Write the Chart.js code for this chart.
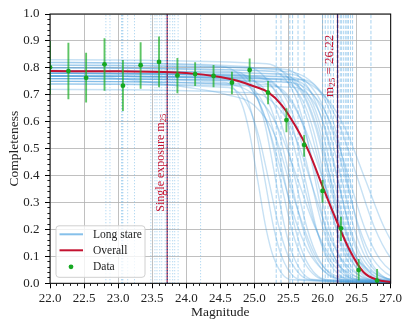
<!DOCTYPE html>
<html><head><meta charset="utf-8">
<script src="https://cdn.jsdelivr.net/npm/chart.js@4.4.1/dist/chart.umd.min.js"></script>
<style>html,body{margin:0;padding:0;background:#fff;overflow:hidden}</style>
</head><body>
<canvas id="c" width="411" height="329" style="display:block;width:411px;height:329px"></canvas>
<script>
// ---------- data ----------
const dataMag     = [22.00,22.27,22.53,22.80,23.07,23.33,23.60,23.87,24.13,24.40,24.67,24.93,25.20,25.47,25.73,26.00,26.27,26.53,26.80];
const dataComp    = [0.802,0.788,0.763,0.813,0.734,0.810,0.822,0.772,0.777,0.770,0.745,0.792,0.708,0.606,0.514,0.343,0.204,0.049,0.010];
const dataErrLow  = [0.700,0.683,0.671,0.715,0.640,0.722,0.728,0.706,0.733,0.728,0.702,0.749,0.665,0.561,0.470,0.299,0.157,0.010,0.000];
const dataErrHigh = [0.900,0.893,0.856,0.910,0.829,0.895,0.916,0.837,0.821,0.811,0.786,0.835,0.751,0.650,0.551,0.384,0.247,0.090,0.053];

const overallMag  = [22,23,24,24.5,24.75,25,25.2,25.4,25.6,25.8,26.0,26.2,26.4,26.6,26.8,27];
const overallComp = [0.788,0.787,0.781,0.766,0.752,0.731,0.710,0.662,0.585,0.488,0.360,0.235,0.122,0.042,0.013,0.005];

const longStareCurves = [
 [[22,.76],[24.57,.746],[24.81,.67],[24.93,.556],[25.05,.38],[25.17,.204],[25.29,.09],[25.53,.014],[27.8,0]],
 [[22,.78],[24.63,.766],[24.89,.687],[25.02,.57],[25.15,.39],[25.28,.21],[25.41,.093],[25.67,.014],[27.8,0]],
 [[22,.74],[24.62,.727],[24.92,.652],[25.07,.541],[25.22,.37],[25.37,.199],[25.52,.088],[25.82,.013],[27.8,0]],
 [[22,.80],[24.74,.786],[25.02,.705],[25.16,.585],[25.30,.40],[25.44,.215],[25.58,.095],[25.86,.014],[27.8,0]],
 [[22,.77],[24.74,.756],[25.06,.678],[25.22,.563],[25.38,.385],[25.54,.207],[25.70,.092],[26.02,.014],[27.8,0]],
 [[22,.75],[24.85,.737],[25.15,.661],[25.30,.548],[25.45,.375],[25.60,.202],[25.75,.089],[26.05,.014],[27.8,0]],
 [[22,.79],[24.80,.776],[25.16,.696],[25.34,.577],[25.52,.395],[25.70,.213],[25.88,.094],[26.24,.014],[27.8,0]],
 [[22,.77],[24.92,.756],[25.26,.678],[25.43,.563],[25.60,.385],[25.77,.207],[25.94,.092],[26.28,.014],[27.8,0]],
 [[22,.82],[24.88,.805],[25.28,.722],[25.48,.599],[25.68,.41],[25.88,.221],[26.08,.098],[26.48,.015],[27.8,0]],
 [[22,.76],[25.11,.746],[25.43,.67],[25.59,.556],[25.75,.38],[25.91,.204],[26.07,.09],[26.39,.014],[27.8,0]],
 [[22,.78],[25.10,.766],[25.46,.687],[25.64,.57],[25.82,.39],[26.00,.21],[26.18,.093],[26.54,.014],[27.8,0]],
 [[22,.80],[25.28,.786],[25.58,.705],[25.73,.585],[25.88,.40],[26.03,.215],[26.18,.095],[26.48,.014],[27.8,0]],
 [[22,.75],[25.25,.737],[25.59,.661],[25.76,.548],[25.93,.375],[26.10,.202],[26.27,.089],[26.61,.014],[27.8,0]],
 [[22,.83],[25.18,.815],[25.58,.731],[25.78,.607],[25.98,.415],[26.18,.223],[26.38,.099],[26.78,.015],[27.8,0]],
 [[22,.77],[25.39,.756],[25.71,.678],[25.87,.563],[26.03,.385],[26.19,.207],[26.35,.092],[26.67,.014],[27.8,0]],
 [[22,.79],[25.36,.776],[25.72,.696],[25.90,.577],[26.08,.395],[26.26,.213],[26.44,.094],[26.80,.014],[27.8,0]],
 [[22,.76],[25.52,.746],[25.82,.67],[25.97,.556],[26.12,.38],[26.27,.204],[26.42,.09],[26.72,.014],[27.8,0]],
 [[22,.78],[25.48,.766],[25.82,.687],[25.99,.57],[26.16,.39],[26.33,.21],[26.50,.093],[26.84,.014],[27.8,0]],
 [[22,.81],[25.44,.795],[25.82,.714],[26.01,.592],[26.20,.405],[26.39,.218],[26.58,.096],[26.96,.015],[27.8,0]],
 [[22,.74],[25.60,.727],[25.92,.652],[26.08,.541],[26.24,.37],[26.40,.199],[26.56,.088],[26.88,.013],[27.8,0]],
 [[22,.77],[25.56,.756],[25.92,.678],[26.10,.563],[26.28,.385],[26.46,.207],[26.64,.092],[27.00,.014],[27.8,0]],
 [[22,.79],[25.53,.776],[25.93,.696],[26.13,.577],[26.33,.395],[26.53,.213],[26.73,.094],[27.13,.014],[27.8,0]],
 [[22,.76],[25.52,.746],[25.96,.67],[26.18,.556],[26.40,.38],[26.62,.204],[26.84,.09],[27.28,.014],[27.8,0]],
 [[22,.80],[25.50,.786],[26.00,.705],[26.25,.585],[26.50,.40],[26.75,.215],[27.00,.095],[27.50,.014],[27.8,0]],
 [[22,.78],[25.50,.766],[26.06,.687],[26.34,.57],[26.62,.39],[26.90,.21],[27.18,.093],[27.74,.014],[27.8,0]],
 [[22,.72],[24.97,.707],[25.41,.634],[25.63,.526],[25.85,.36],[26.07,.194],[26.29,.086],[26.73,.013],[27.8,0]],
 [[22,.82],[24.52,.805],[24.96,.722],[25.18,.599],[25.40,.41],[25.62,.221],[25.84,.098],[26.28,.015],[27.8,0]],
 [[22,.78],[25.00,.766],[25.50,.687],[25.75,.57],[26.00,.39],[26.25,.21],[26.50,.093],[27.00,.014],[27.8,0]],
 [[22,.75],[24.65,.737],[25.15,.661],[25.40,.548],[25.65,.375],[25.90,.202],[26.15,.089],[26.65,.014],[27.8,0]],
 [[22,.77],[22.8,.765],[23.5,.745],[24.0,.728],[24.6,.70],[25.0,.66],[25.3,.55],[25.6,.30],[25.9,.10],[26.3,.02],[27.8,0]],
 [[22,.81],[25.30,.795],[25.70,.714],[25.90,.592],[26.10,.405],[26.30,.218],[26.50,.096],[26.90,.015],[27.8,0]],
 [[22,.77],[25.72,.756],[26.04,.678],[26.20,.563],[26.36,.385],[26.52,.207],[26.68,.092],[27.00,.014],[27.8,0]]
];

const singleExpM25 = [22.82,22.88,23.05,23.06,23.07,23.14,23.24,23.48,23.54,23.57,23.61,23.64,23.69,23.76,23.80,23.83,23.88,24.21];
const longStareM25 = [25.32,25.39,25.52,25.56,25.64,25.73,26.00,26.04,26.08,26.12,26.16,26.26,26.28,26.31,26.34,26.36,26.38,26.41,26.44,26.71];
const singleExpMedianM25 = 23.72;
const overallM25 = 26.22;

const xRange = [22, 27], yRange = [0, 1];
const xMajorStep = 0.5, xMinorStep = 0.1, yMajorStep = 0.1, yMinorStep = 0.02;
const legendLabels = ['Long stare', 'Overall', 'Data'];
const xTitle = 'Magnitude', yTitle = 'Completeness';

// ---------- styles ----------
const FONT = "'Liberation Serif', 'DejaVu Serif', serif";
const RED = '#c41230';
const NAVY = '#1f2a78';
const GREEN = 'rgb(22,168,34)';
const GREEN_BAR = 'rgba(30,175,40,0.72)';
const BLUE_CURVE = 'rgba(70,155,220,0.30)';
const BLUE_VLINE = 'rgba(110,180,230,0.55)';
const BLUE_LEGEND = '#86c0ea';

const datasets = [];
const vline = (m, color, dash, width, order, offset) => ({
  data: [{x: m, y: yRange[0]}, {x: m, y: yRange[1]}],
  borderColor: color, borderWidth: width, borderDash: dash, borderDashOffset: offset || 0,
  pointRadius: 0, order: order
});

datasets.push({
  data: dataMag.map((m, i) => ({x: m, y: dataComp[i]})),
  showLine: false, pointRadius: 2.4, pointBackgroundColor: GREEN, pointBorderWidth: 0, order: 0
});
dataMag.forEach((m, i) => datasets.push({
  data: [{x: m, y: dataErrLow[i]}, {x: m, y: dataErrHigh[i]}],
  borderColor: GREEN_BAR, borderWidth: 1.9, pointRadius: 0, order: 1
}));
datasets.push({
  data: overallMag.map((m, i) => ({x: m, y: overallComp[i]})),
  borderColor: RED, borderWidth: 2, pointRadius: 0, cubicInterpolationMode: 'monotone', order: 2
});
datasets.push(vline(singleExpMedianM25, NAVY, [1.5, 1.5], 1.3, 3, 0));
datasets.push(vline(singleExpMedianM25, RED, [1.5, 1.5], 1.3, 3, 1.5));
datasets.push(vline(overallM25, NAVY, [], 1.0, 3, 0));
datasets.push(vline(overallM25, RED, [3.5, 1.5], 1.4, 3, 0));
longStareCurves.forEach(c => datasets.push({
  data: c.map(p => ({x: p[0], y: p[1]})),
  borderColor: BLUE_CURVE, borderWidth: 1.4, pointRadius: 0, cubicInterpolationMode: 'monotone', order: 5
}));
singleExpM25.forEach(m => datasets.push(vline(m, BLUE_VLINE, [1.2, 1.8], 1, 6)));
longStareM25.forEach(m => datasets.push(vline(m, BLUE_VLINE, [3.5, 1.8], 1.1, 6)));

function vtext(ctx, xBase, yStart, parts, color) {
  ctx.save();
  ctx.translate(xBase, yStart);
  ctx.rotate(-Math.PI / 2);
  ctx.fillStyle = color;
  ctx.textBaseline = 'alphabetic';
  ctx.textAlign = 'left';
  let cx = 0;
  for (const [t, size, dy] of parts) {
    ctx.font = size + 'px ' + FONT;
    ctx.fillText(t, cx, dy);
    cx += ctx.measureText(t).width;
  }
  ctx.restore();
}

const decor = {
  id: 'decor',
  afterDatasetsDraw(chart) {
    const {ctx, chartArea: a, scales: {x, y}} = chart;
    ctx.save();
    // annotations
    vtext(ctx, x.getPixelForValue(singleExpMedianM25) - 3.3, y.getPixelForValue(0.266),
      [['Single exposure m', 12, 0], ['25', 8.5, 2.2]], RED);
    vtext(ctx, x.getPixelForValue(overallM25) - 4.8, y.getPixelForValue(0.692),
      [['m', 13, 0], ['25', 9, 2.4], [' = 26.22', 13, 0]], RED);
    // spines
    ctx.strokeStyle = '#000';
    ctx.lineWidth = 1;
    ctx.strokeRect(a.left, a.top, a.right - a.left, a.bottom - a.top);
    // legend
    const bx = a.left + 6, by = a.bottom - 57.5, bw = 89, bh = 51.5;
    ctx.beginPath();
    ctx.roundRect(bx, by, bw, bh, 3);
    ctx.fillStyle = 'rgba(255,255,255,0.8)';
    ctx.fill();
    ctx.strokeStyle = '#d0d0d0';
    ctx.lineWidth = 1;
    ctx.stroke();
    const rows = [by + 8.5, by + 24.5, by + 41];
    ctx.lineWidth = 2;
    ctx.strokeStyle = BLUE_LEGEND;
    ctx.beginPath(); ctx.moveTo(bx + 3.5, rows[0]); ctx.lineTo(bx + 27, rows[0]); ctx.stroke();
    ctx.strokeStyle = RED;
    ctx.beginPath(); ctx.moveTo(bx + 3.5, rows[1]); ctx.lineTo(bx + 27, rows[1]); ctx.stroke();
    ctx.fillStyle = GREEN;
    ctx.beginPath(); ctx.arc(bx + 15, rows[2], 2.4, 0, Math.PI * 2); ctx.fill();
    ctx.fillStyle = '#222';
    ctx.font = '11.5px ' + FONT;
    ctx.textBaseline = 'middle';
    ctx.textAlign = 'left';
    legendLabels.forEach((t, i) => ctx.fillText(t, bx + 37, rows[i] + 0.5));
    ctx.restore();
  }
};

const tickFont = {family: FONT, size: 13};
const titleFont = {family: FONT, size: 13.5};

new Chart(document.getElementById('c'), {
  type: 'line',
  data: {datasets},
  options: {
    responsive: false, animation: false, events: [],
    layout: {padding: {left: 0, right: 20.3, top: 14, bottom: 0}},
    plugins: {legend: {display: false}, tooltip: {enabled: false}},
    elements: {line: {tension: 0}},
    scales: {
      x: {
        type: 'linear', position: 'bottom', weight: 1, min: xRange[0], max: xRange[1],
        ticks: {stepSize: xMajorStep, autoSkip: false, maxRotation: 0, callback: v => v.toFixed(1), font: tickFont, color: '#222', padding: 2},
        grid: {color: '#b0b0b0', lineWidth: 0.8, tickLength: 5, tickColor: '#000', tickWidth: 1},
        border: {display: false},
        title: {display: true, text: xTitle, font: titleFont, color: '#222', padding: {top: 0, bottom: 8.4}},
        afterFit(s) { s.height = 45.7; }
      },
      xMinor: {
        type: 'linear', position: 'bottom', weight: 0, min: xRange[0], max: xRange[1],
        ticks: {display: false, stepSize: xMinorStep},
        grid: {drawOnChartArea: false, tickLength: 2.6, tickColor: '#000', tickWidth: 0.9},
        border: {display: false},
        afterFit(s) { s.height = 0; }
      },
      y: {
        type: 'linear', position: 'left', weight: 1, min: yRange[0], max: yRange[1],
        ticks: {stepSize: yMajorStep, autoSkip: false, callback: v => v.toFixed(1), font: tickFont, color: '#222', padding: 5.5},
        grid: {color: '#b0b0b0', lineWidth: 0.8, tickLength: 5, tickColor: '#000', tickWidth: 1},
        border: {display: false},
        title: {display: true, text: yTitle, font: titleFont, color: '#222', padding: {top: 6, bottom: 0}},
        afterFit(s) { s.width = 50; }
      },
      yMinor: {
        type: 'linear', position: 'left', weight: 0, min: yRange[0], max: yRange[1],
        ticks: {display: false, stepSize: yMinorStep},
        grid: {drawOnChartArea: false, tickLength: 2.6, tickColor: '#000', tickWidth: 0.9},
        border: {display: false},
        afterFit(s) { s.width = 0; }
      }
    }
  },
  plugins: [decor]
});
</script></body></html>
